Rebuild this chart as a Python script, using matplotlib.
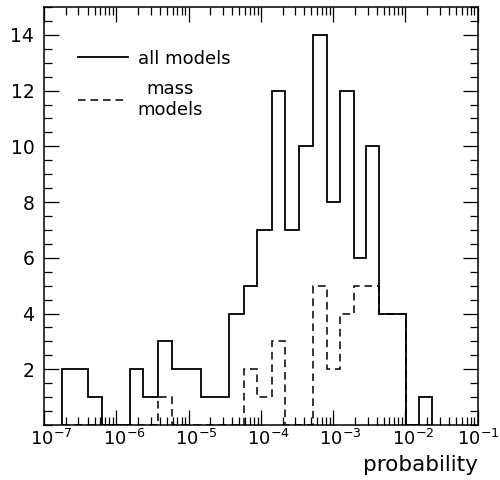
import matplotlib
matplotlib.use('Agg')
import matplotlib.pyplot as plt
import matplotlib.transforms as mtransforms
from matplotlib.lines import Line2D
from matplotlib.ticker import LogLocator, MultipleLocator, NullFormatter
import numpy as np

# log10 of the bin edges
log_edges = [-6.75, -6.56, -6.39, -6.20, -6.01, -5.81, -5.63, -5.42, -5.23, -5.03,
             -4.83, -4.64, -4.44, -4.24, -4.05, -3.85, -3.67, -3.47, -3.28, -3.09,
             -2.91, -2.71, -2.54, -2.36, -2.17, -1.99, -1.81, -1.63]
all_models = [2, 2, 1, 0, 0, 2, 1, 3, 2, 2, 1, 1, 4, 5, 7, 12, 7, 10, 14, 8, 12, 6, 10, 4, 4, 0, 1]
mass_models = [0, 0, 0, 0, 0, 0, 0, 1, 0, 0, 0, 0, 0, 2, 1, 3, 0, 0, 5, 2, 4, 5, 5, 4, 4, 0, 0]

x_ticks = [1e-7, 1e-6, 1e-5, 1e-4, 1e-3, 1e-2, 1e-1]
x_labels = [r'$10^{-7}$', r'$10^{-6}$', r'$10^{-5}$', r'$10^{-4}$',
            r'$10^{-3}$', r'$10^{-2}$', r'$10^{-1}$']
y_ticks = [2, 4, 6, 8, 10, 12, 14]

plt.rcParams['mathtext.default'] = 'regular'
plt.rcParams['lines.scale_dashes'] = False

edges = 10.0 ** np.array(log_edges)

fig = plt.figure(figsize=(5, 4.8), dpi=100)
ax = fig.add_axes([0.088, 0.1146, 0.8674, 0.8708])

ax.stairs(all_models, edges, color='black', lw=1.3)
ax.stairs(mass_models, edges, color='black', lw=1.1, linestyle=(0, (5.5, 3.5)))

ax.set_xscale('log')
ax.set_xlim(1e-7, 1e-1)
ax.set_ylim(0, 15)

ax.set_xticks(x_ticks)
ax.set_xticklabels(x_labels, fontsize=13)
ax.xaxis.set_minor_locator(LogLocator(base=10, subs=range(2, 10), numticks=20))
ax.xaxis.set_minor_formatter(NullFormatter())
ax.set_yticks(y_ticks)
ax.set_yticklabels([str(v) for v in y_ticks], fontsize=13.5)
ax.yaxis.set_minor_locator(MultipleLocator(0.5))

ax.tick_params(which='both', direction='in', top=True, right=True, width=0.9)
ax.tick_params(which='major', length=11)
ax.tick_params(which='minor', length=5.5)
ax.tick_params(axis='x', pad=3)
ax.tick_params(axis='y', pad=7)
for sp in ax.spines.values():
    sp.set_linewidth(1.1)

# the old plot centres the "10" on the tick, not the whole label
# (last one kept nearly centred so it stays inside the figure)
labs = ax.xaxis.get_majorticklabels()
for i, lab in enumerate(labs):
    dx = 5.5 if i < len(labs) - 1 else 0.5
    shift = mtransforms.ScaledTranslation(dx / 72, 0, fig.dpi_scale_trans)
    lab.set_transform(lab.get_transform() + shift)

ax.set_xlabel('probability', fontsize=15.5, loc='right', labelpad=4)

handles = [Line2D([], [], color='black', lw=1.3),
           Line2D([], [], color='black', lw=1.1, linestyle=(0, (5.5, 3.5)))]
leg = ax.legend(handles, ['all models', 'mass\nmodels'], loc='upper left',
                bbox_to_anchor=(0.041, 0.937), frameon=False, fontsize=13,
                handlelength=2.75, handletextpad=0.55, labelspacing=0.7)
for t in leg.get_texts():
    t.set_multialignment('center')

fig.savefig('out.png', dpi=100)
